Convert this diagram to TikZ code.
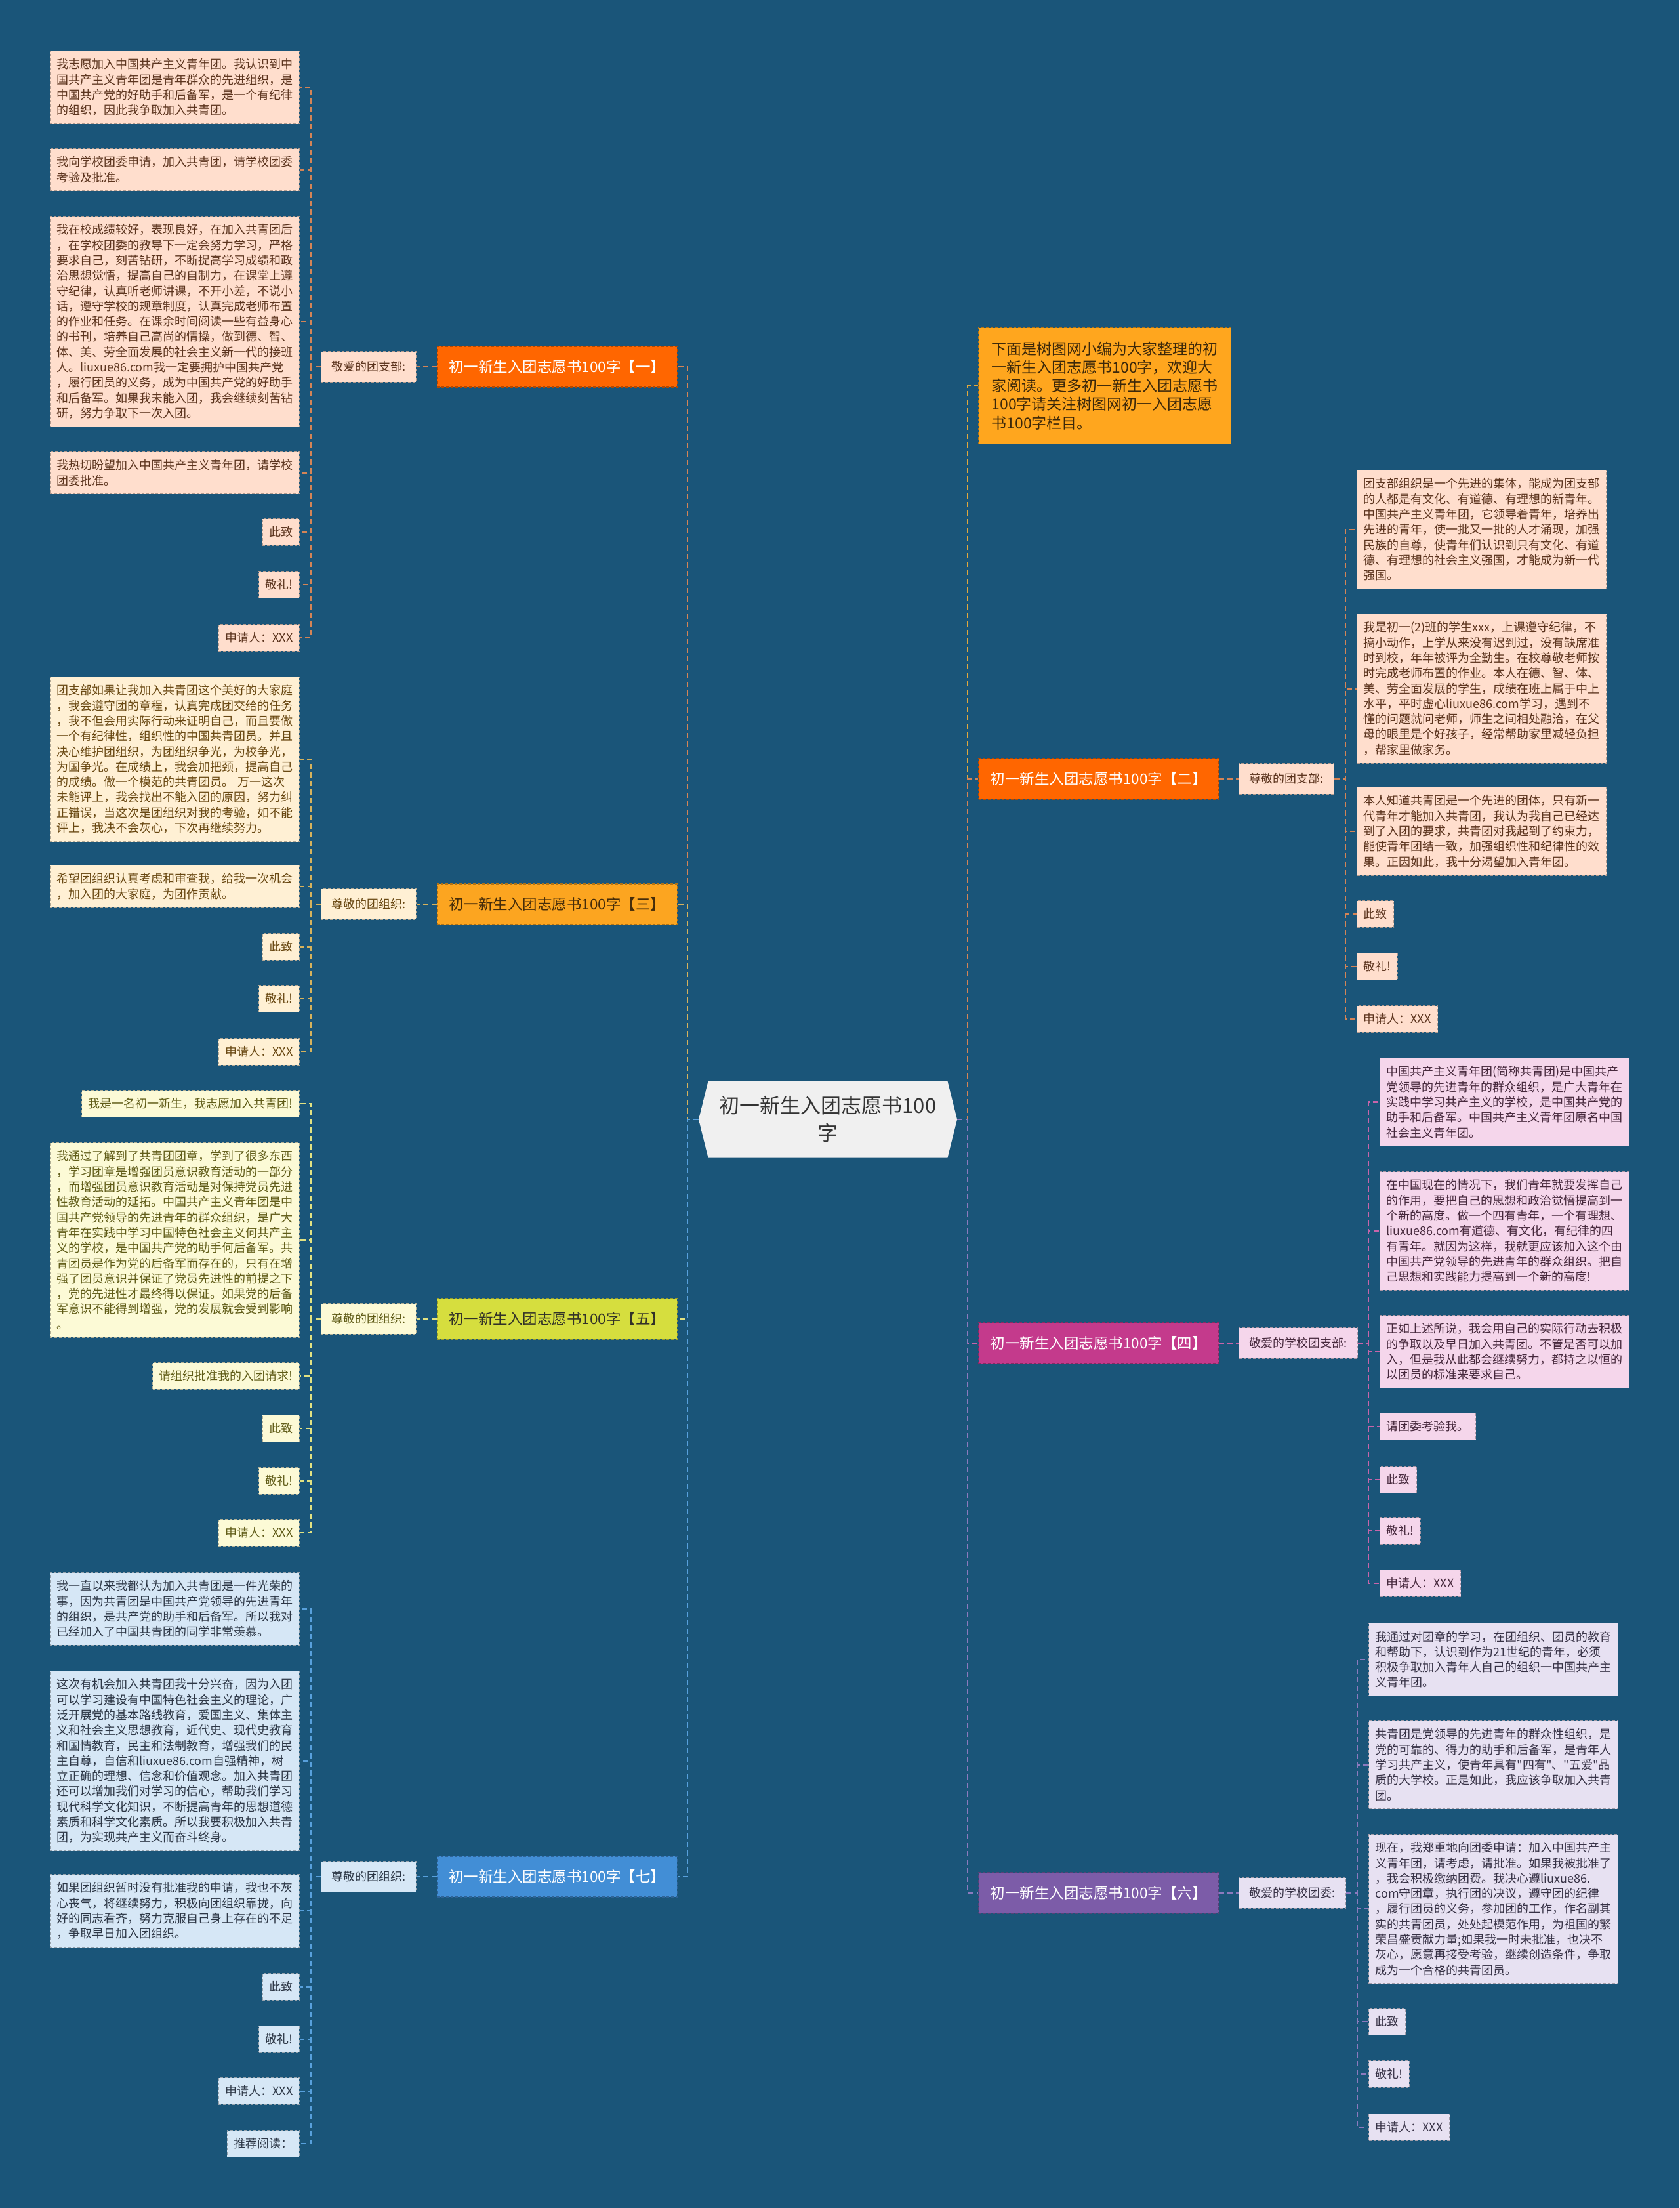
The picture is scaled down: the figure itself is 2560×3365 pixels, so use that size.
\documentclass[tikz,border=0pt]{standalone}
\usepackage{fontspec}
\usepackage{tikz}
\usetikzlibrary{shapes.symbols}
\newfontfamily\cjk{Noto Sans CJK SC}

\definecolor{bgblue}{RGB}{26,85,121}
\definecolor{rootfill}{RGB}{240,240,240}
\definecolor{roottext}{RGB}{51,51,51}
% orange groups (one, two)
\definecolor{fillA}{RGB}{255,222,205}
\definecolor{textA}{RGB}{92,52,30}
\definecolor{lineA}{RGB}{212,132,86}
\definecolor{topicA}{RGB}{255,102,0}
% amber group (three)
\definecolor{fillC}{RGB}{255,240,212}
\definecolor{textC}{RGB}{105,72,18}
\definecolor{lineC}{RGB}{214,178,92}
\definecolor{topicC}{RGB}{252,165,32}
\definecolor{topictextC}{RGB}{70,45,10}
% lemon group (five)
\definecolor{fillE}{RGB}{252,250,214}
\definecolor{textE}{RGB}{96,92,24}
\definecolor{lineE}{RGB}{226,226,130}
\definecolor{topicE}{RGB}{214,222,62}
\definecolor{topictextE}{RGB}{50,50,40}
% blue group (seven)
\definecolor{fillG}{RGB}{214,231,246}
\definecolor{textG}{RGB}{45,55,70}
\definecolor{lineG}{RGB}{88,160,220}
\definecolor{topicG}{RGB}{66,142,214}
% rose group (four)
\definecolor{fillD}{RGB}{245,214,235}
\definecolor{textD}{RGB}{70,40,60}
\definecolor{lineD}{RGB}{200,100,170}
\definecolor{topicD}{RGB}{196,58,140}
% lilac group (six)
\definecolor{fillF}{RGB}{231,225,242}
\definecolor{textF}{RGB}{55,50,70}
\definecolor{lineF}{RGB}{140,122,190}
\definecolor{topicF}{RGB}{124,92,168}
% intro box
\definecolor{introfill}{RGB}{255,166,30}
\definecolor{introtext}{RGB}{60,40,10}
\definecolor{lineI}{RGB}{226,168,60}

\begin{document}
\begin{tikzpicture}[
    x=1pt, y=-1pt,
    centre/.style={signal, signal to=west and east, signal pointer angle=152, fill=rootfill, text=roottext, minimum width=394pt, minimum height=117pt, align=center, font=\cjk\fontsize{31}{42}\selectfont},
    topic/.style={rectangle, draw=#1!70!black, fill=#1, dashed, dash pattern=on 4pt off 3pt, line width=1.2pt, minimum width=366pt, minimum height=62pt, font=\cjk\fontsize{22.5}{27}\selectfont},
    greet/.style={rectangle, dashed, dash pattern=on 4pt off 3pt, line width=1.2pt, inner xsep=16pt, inner ysep=15pt, font=\cjk\fontsize{18}{22}\selectfont},
    leaf/.style={rectangle, dashed, dash pattern=on 4pt off 3pt, line width=1.2pt, inner xsep=10pt, inner ysep=12pt, align=left, font=\cjk\fontsize{18}{23.3}\selectfont},
    wide/.style={text width=360pt},
    toneA/.style={fill=fillA, draw=fillA!70!black, text=textA},
    toneC/.style={fill=fillC, draw=fillC!70!black, text=textC},
    toneE/.style={fill=fillE, draw=fillE!70!black, text=textE},
    toneG/.style={fill=fillG, draw=fillG!70!black, text=textG},
    toneD/.style={fill=fillD, draw=fillD!70!black, text=textD},
    toneF/.style={fill=fillF, draw=fillF!70!black, text=textF},
    conn/.style={draw=#1, dashed, dash pattern=on 8pt off 5pt, line width=2.2pt}
]
    \useasboundingbox (0,0) rectangle (2560,3365);
    \fill[bgblue] (0,0) rectangle (2560,3365);

    % centre
    \node[centre] (root) at (1262,1706) {初一新生入团志愿书100\\字};

    % main topics, left side
    \node[topic=topicA, text=white, anchor=east] (b1) at (1033,559) {初一新生入团志愿书100字【一】};
    \node[topic=topicC, text=topictextC, anchor=east] (b3) at (1033,1378) {初一新生入团志愿书100字【三】};
    \node[topic=topicE, text=topictextE, anchor=east] (b5) at (1033,2010) {初一新生入团志愿书100字【五】};
    \node[topic=topicG, text=white, anchor=east] (b7) at (1033,2860) {初一新生入团志愿书100字【七】};

    % main topics, right side
    \node[draw=introfill!70!black, fill=introfill, text=introtext, dashed, dash pattern=on 4pt off 3pt, line width=1.2pt, inner xsep=20pt, inner ysep=21pt, text width=345pt, align=left, anchor=north west, font=\cjk\fontsize{23}{28.3}\selectfont] (intro) at (1491,499) {下面是树图网小编为大家整理的初\\一新生入团志愿书100字，欢迎大\\家阅读。更多初一新生入团志愿书\\100字请关注树图网初一入团志愿\\书100字栏目。};
    \node[topic=topicA, text=white, anchor=west] (b2) at (1491,1187) {初一新生入团志愿书100字【二】};
    \node[topic=topicD, text=white, anchor=west] (b4) at (1491,2047) {初一新生入团志愿书100字【四】};
    \node[topic=topicF, text=white, anchor=west] (b6) at (1491,2885) {初一新生入团志愿书100字【六】};

    % salutations
    \node[greet, toneA, anchor=east] (sal1) at (635,559) {敬爱的团支部:};
    \node[greet, toneC, anchor=east] (sal3) at (635,1378) {尊敬的团组织:};
    \node[greet, toneE, anchor=east] (sal5) at (635,2010) {尊敬的团组织:};
    \node[greet, toneG, anchor=east] (sal7) at (635,2860) {尊敬的团组织:};
    \node[greet, toneA, anchor=west] (sal2) at (1888,1187) {尊敬的团支部:};
    \node[greet, toneD, anchor=west] (sal4) at (1888,2047) {敬爱的学校团支部:};
    \node[greet, toneF, anchor=west] (sal6) at (1888,2885) {敬爱的学校团委:};

    % group one
    \node[leaf, wide, toneA, anchor=north east] (l1a) at (457,77) {我志愿加入中国共产主义青年团。我认识到中\\国共产主义青年团是青年群众的先进组织，是\\中国共产党的好助手和后备军，是一个有纪律\\的组织，因此我争取加入共青团。};
    \node[leaf, wide, toneA, anchor=north east] (l1b) at (457,226) {我向学校团委申请，加入共青团，请学校团委\\考验及批准。};
    \node[leaf, wide, toneA, anchor=north east] (l1c) at (457,329) {我在校成绩较好，表现良好，在加入共青团后\\，在学校团委的教导下一定会努力学习，严格\\要求自己，刻苦钻研，不断提高学习成绩和政\\治思想觉悟，提高自己的自制力，在课堂上遵\\守纪律，认真听老师讲课，不开小差，不说小\\话，遵守学校的规章制度，认真完成老师布置\\的作业和任务。在课余时间阅读一些有益身心\\的书刊，培养自己高尚的情操，做到德、智、\\体、美、劳全面发展的社会主义新一代的接班\\人。liuxue86.com我一定要拥护中国共产党\\，履行团员的义务，成为中国共产党的好助手\\和后备军。如果我未能入团，我会继续刻苦钻\\研，努力争取下一次入团。};
    \node[leaf, wide, toneA, anchor=north east] (l1d) at (457,688) {我热切盼望加入中国共产主义青年团，请学校\\团委批准。};
    \node[leaf, toneA, anchor=north east] (l1e) at (457,790) {此致};
    \node[leaf, toneA, anchor=north east] (l1f) at (457,870) {敬礼!};
    \node[leaf, toneA, anchor=north east] (l1g) at (457,951) {申请人：XXX};

    % group three
    \node[leaf, wide, toneC, anchor=north east] (l3a) at (457,1031) {团支部如果让我加入共青团这个美好的大家庭\\，我会遵守团的章程，认真完成团交给的任务\\，我不但会用实际行动来证明自己，而且要做\\一个有纪律性，组织性的中国共青团员。并且\\决心维护团组织，为团组织争光，为校争光，\\为国争光。在成绩上，我会加把颈，提高自己\\的成绩。做一个模范的共青团员。\ 万一这次\\未能评上，我会找出不能入团的原因，努力纠\\正错误，当这次是团组织对我的考验，如不能\\评上，我决不会灰心，下次再继续努力。};
    \node[leaf, wide, toneC, anchor=north east] (l3b) at (457,1318) {希望团组织认真考虑和审查我，给我一次机会\\，加入团的大家庭，为团作贡献。};
    \node[leaf, toneC, anchor=north east] (l3c) at (457,1422) {此致};
    \node[leaf, toneC, anchor=north east] (l3d) at (457,1501) {敬礼!};
    \node[leaf, toneC, anchor=north east] (l3e) at (457,1582) {申请人：XXX};

    % group five
    \node[leaf, toneE, anchor=north east] (l5a) at (457,1661) {我是一名初一新生，我志愿加入共青团!};
    \node[leaf, wide, toneE, anchor=north east] (l5b) at (457,1741) {我通过了解到了共青团团章，学到了很多东西\\，学习团章是增强团员意识教育活动的一部分\\，而增强团员意识教育活动是对保持党员先进\\性教育活动的延拓。中国共产主义青年团是中\\国共产党领导的先进青年的群众组织，是广大\\青年在实践中学习中国特色社会主义何共产主\\义的学校，是中国共产党的助手何后备军。共\\青团员是作为党的后备军而存在的，只有在增\\强了团员意识并保证了党员先进性的前提之下\\，党的先进性才最终得以保证。如果党的后备\\军意识不能得到增强，党的发展就会受到影响\\。};
    \node[leaf, toneE, anchor=north east] (l5c) at (457,2076) {请组织批准我的入团请求!};
    \node[leaf, toneE, anchor=north east] (l5d) at (457,2156) {此致};
    \node[leaf, toneE, anchor=north east] (l5e) at (457,2236) {敬礼!};
    \node[leaf, toneE, anchor=north east] (l5f) at (457,2315) {申请人：XXX};

    % group seven
    \node[leaf, wide, toneG, anchor=north east] (l7a) at (457,2396) {我一直以来我都认为加入共青团是一件光荣的\\事，因为共青团是中国共产党领导的先进青年\\的组织，是共产党的助手和后备军。所以我对\\已经加入了中国共青团的同学非常羡慕。};
    \node[leaf, wide, toneG, anchor=north east] (l7b) at (457,2546) {这次有机会加入共青团我十分兴奋，因为入团\\可以学习建设有中国特色社会主义的理论，广\\泛开展党的基本路线教育，爱国主义、集体主\\义和社会主义思想教育，近代史、现代史教育\\和国情教育，民主和法制教育，增强我们的民\\主自尊，自信和liuxue86.com自强精神，树\\立正确的理想、信念和价值观念。加入共青团\\还可以增加我们对学习的信心，帮助我们学习\\现代科学文化知识，不断提高青年的思想道德\\素质和科学文化素质。所以我要积极加入共青\\团，为实现共产主义而奋斗终身。};
    \node[leaf, wide, toneG, anchor=north east] (l7c) at (457,2856) {如果团组织暂时没有批准我的申请，我也不灰\\心丧气，将继续努力，积极向团组织靠拢，向\\好的同志看齐，努力克服自己身上存在的不足\\，争取早日加入团组织。};
    \node[leaf, toneG, anchor=north east] (l7d) at (457,3007) {此致};
    \node[leaf, toneG, anchor=north east] (l7e) at (457,3087) {敬礼!};
    \node[leaf, toneG, anchor=north east] (l7f) at (457,3166) {申请人：XXX};
    \node[leaf, toneG, anchor=north east] (l7g) at (457,3246) {推荐阅读：};

    % group two
    \node[leaf, wide, toneA, anchor=north west] (r2a) at (2068,716) {团支部组织是一个先进的集体，能成为团支部\\的人都是有文化、有道德、有理想的新青年。\\中国共产主义青年团，它领导着青年，培养出\\先进的青年，使一批又一批的人才涌现，加强\\民族的自尊，使青年们认识到只有文化、有道\\德、有理想的社会主义强国，才能成为新一代\\强国。};
    \node[leaf, wide, toneA, anchor=north west] (r2b) at (2068,935) {我是初一(2)班的学生xxx，上课遵守纪律，不\\搞小动作，上学从来没有迟到过，没有缺席准\\时到校，年年被评为全勤生。在校尊敬老师按\\时完成老师布置的作业。本人在德、智、体、\\美、劳全面发展的学生，成绩在班上属于中上\\水平，平时虚心liuxue86.com学习，遇到不\\懂的问题就问老师，师生之间相处融洽，在父\\母的眼里是个好孩子，经常帮助家里减轻负担\\，帮家里做家务。};
    \node[leaf, wide, toneA, anchor=north west] (r2c) at (2068,1199) {本人知道共青团是一个先进的团体，只有新一\\代青年才能加入共青团，我认为我自己已经达\\到了入团的要求，共青团对我起到了约束力，\\能使青年团结一致，加强组织性和纪律性的效\\果。正因如此，我十分渴望加入青年团。};
    \node[leaf, toneA, anchor=north west] (r2d) at (2068,1372) {此致};
    \node[leaf, toneA, anchor=north west] (r2e) at (2068,1452) {敬礼!};
    \node[leaf, toneA, anchor=north west] (r2f) at (2068,1532) {申请人：XXX};

    % group four
    \node[leaf, wide, toneD, anchor=north west] (r4a) at (2103,1612) {中国共产主义青年团(简称共青团)是中国共产\\党领导的先进青年的群众组织，是广大青年在\\实践中学习共产主义的学校，是中国共产党的\\助手和后备军。中国共产主义青年团原名中国\\社会主义青年团。};
    \node[leaf, wide, toneD, anchor=north west] (r4b) at (2103,1785) {在中国现在的情况下，我们青年就要发挥自己\\的作用，要把自己的思想和政治觉悟提高到一\\个新的高度。做一个四有青年，一个有理想、\\liuxue86.com有道德、有文化，有纪律的四\\有青年。就因为这样，我就更应该加入这个由\\中国共产党领导的先进青年的群众组织。把自\\己思想和实践能力提高到一个新的高度!};
    \node[leaf, wide, toneD, anchor=north west] (r4c) at (2103,2004) {正如上述所说，我会用自己的实际行动去积极\\的争取以及早日加入共青团。不管是否可以加\\入，但是我从此都会继续努力，都持之以恒的\\以团员的标准来要求自己。};
    \node[leaf, toneD, anchor=north west] (r4d) at (2103,2153) {请团委考验我。};
    \node[leaf, toneD, anchor=north west] (r4e) at (2103,2234) {此致};
    \node[leaf, toneD, anchor=north west] (r4f) at (2103,2312) {敬礼!};
    \node[leaf, toneD, anchor=north west] (r4g) at (2103,2392) {申请人：XXX};

    % group six
    \node[leaf, wide, toneF, anchor=north west] (r6a) at (2086,2473) {我通过对团章的学习，在团组织、团员的教育\\和帮助下，认识到作为21世纪的青年，必须\\积极争取加入青年人自己的组织一中国共产主\\义青年团。};
    \node[leaf, wide, toneF, anchor=north west] (r6b) at (2086,2622) {共青团是党领导的先进青年的群众性组织，是\\党的可靠的、得力的助手和后备军，是青年人\\学习共产主义，使青年具有"四有"、"五爱"品\\质的大学校。正是如此，我应该争取加入共青\\团。};
    \node[leaf, wide, toneF, anchor=north west] (r6c) at (2086,2795) {现在，我郑重地向团委申请：加入中国共产主\\义青年团，请考虑，请批准。如果我被批准了\\，我会积极缴纳团费。我决心遵liuxue86.\\com守团章，执行团的决议，遵守团的纪律\\，履行团员的义务，参加团的工作，作名副其\\实的共青团员，处处起模范作用，为祖国的繁\\荣昌盛贡献力量;如果我一时未批准，也决不\\灰心，愿意再接受考验，继续创造条件，争取\\成为一个合格的共青团员。};
    \node[leaf, toneF, anchor=north west] (r6d) at (2086,3060) {此致};
    \node[leaf, toneF, anchor=north west] (r6e) at (2086,3140) {敬礼!};
    \node[leaf, toneF, anchor=north west] (r6f) at (2086,3221) {申请人：XXX};

    % root to topics
    \draw[conn=lineA] (root.west) -- ++(-17,0) |- (b1.east);
    \draw[conn=lineC] (root.west) -- ++(-17,0) |- (b3.east);
    \draw[conn=lineE] (root.west) -- ++(-17,0) |- (b5.east);
    \draw[conn=lineG] (root.west) -- ++(-17,0) |- (b7.east);
    \draw[conn=lineI] (root.east) -- ++(16,0) |- (intro.west);
    \draw[conn=lineA] (root.east) -- ++(16,0) |- (b2.west);
    \draw[conn=lineD] (root.east) -- ++(16,0) |- (b4.west);
    \draw[conn=lineF] (root.east) -- ++(16,0) |- (b6.west);

    % topics to salutations
    \draw[conn=lineA] (b1.west) -- (sal1.east);
    \draw[conn=lineC] (b3.west) -- (sal3.east);
    \draw[conn=lineE] (b5.west) -- (sal5.east);
    \draw[conn=lineG] (b7.west) -- (sal7.east);
    \draw[conn=lineA] (b2.east) -- (sal2.west);
    \draw[conn=lineD] (b4.east) -- (sal4.west);
    \draw[conn=lineF] (b6.east) -- (sal6.west);

    % salutations to leaves
    \foreach \n in {l1a,l1b,l1c,l1d,l1e,l1f,l1g}
        \draw[conn=lineA] (sal1.west) -| ([xshift=17pt]\n.east) -- (\n.east);
    \foreach \n in {l3a,l3b,l3c,l3d,l3e}
        \draw[conn=lineC] (sal3.west) -| ([xshift=17pt]\n.east) -- (\n.east);
    \foreach \n in {l5a,l5b,l5c,l5d,l5e,l5f}
        \draw[conn=lineE] (sal5.west) -| ([xshift=17pt]\n.east) -- (\n.east);
    \foreach \n in {l7a,l7b,l7c,l7d,l7e,l7f,l7g}
        \draw[conn=lineG] (sal7.west) -| ([xshift=17pt]\n.east) -- (\n.east);
    \foreach \n in {r2a,r2b,r2c,r2d,r2e,r2f}
        \draw[conn=lineA] (sal2.east) -| ([xshift=-17pt]\n.west) -- (\n.west);
    \foreach \n in {r4a,r4b,r4c,r4d,r4e,r4f,r4g}
        \draw[conn=lineD] (sal4.east) -| ([xshift=-17pt]\n.west) -- (\n.west);
    \foreach \n in {r6a,r6b,r6c,r6d,r6e,r6f}
        \draw[conn=lineF] (sal6.east) -| ([xshift=-17pt]\n.west) -- (\n.west);

\end{tikzpicture}
\end{document}
